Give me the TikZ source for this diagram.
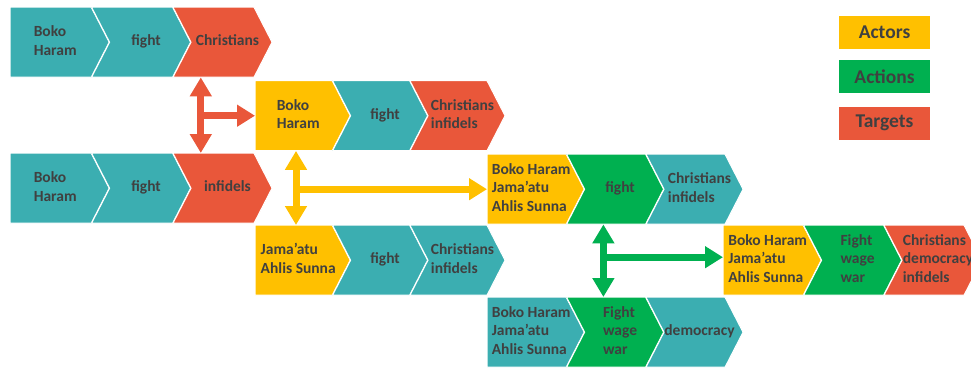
\documentclass[tikz,border=0pt]{standalone}
\usepackage{fontspec}
\setmainfont{Carlito}
\usepackage{xcolor}
\usetikzlibrary{arrows.meta, positioning}

\definecolor{tealc}{RGB}{59,174,177}
\definecolor{redc}{RGB}{233,87,58}
\definecolor{yellowc}{RGB}{255,192,0}
\definecolor{greenc}{RGB}{0,176,80}
\definecolor{txtc}{RGB}{64,64,64}

% stacked label lines, left aligned
\newcommand{\lns}[1]{\begin{tabular}{@{}l@{}}#1\end{tabular}}

\begin{document}
\begin{tikzpicture}[
    x=1pt, y=-1pt,
    node distance=-18pt,
    base/.style={inner sep=0pt, minimum height=70pt, text=txtc, font=\fontsize{15.5}{18.5}\selectfont\bfseries},
    first/.style={base, anchor=north west, execute at begin node={\hspace*{-9pt}},
        path picture={\fill[#1, draw=white, line width=1pt]
        (path picture bounding box.north west) -- ([xshift=-18pt]path picture bounding box.north east)
        -- (path picture bounding box.east) -- ([xshift=-18pt]path picture bounding box.south east)
        -- (path picture bounding box.south west) -- cycle;}},
    chev/.style={base, execute at begin node={\hspace*{10pt}},
        path picture={\fill[#1, draw=white, line width=1pt]
        (path picture bounding box.north west) -- ([xshift=-18pt]path picture bounding box.north east)
        -- (path picture bounding box.east) -- ([xshift=-18pt]path picture bounding box.south east)
        -- (path picture bounding box.south west) -- ([xshift=18pt]path picture bounding box.west) -- cycle;}},
    legend/.style={inner sep=0pt, minimum width=91pt, minimum height=33pt, text=txtc, font=\fontsize{19.5}{21}\selectfont\bfseries},
    darr/.style={line width=7pt, {Triangle[length=19pt, width=21pt]}-{Triangle[length=19pt, width=21pt]}},
    arr/.style={line width=7pt, -{Triangle[length=18pt, width=21pt]}},
]
\useasboundingbox (0,0) rectangle (971,368);

% ======== row 1 ========
\node[first=tealc, minimum width=99pt] (c1a) at (10,7) {\lns{Boko\\Haram}};
\node[chev=tealc, minimum width=99pt, right=of c1a] (c1b) {\lns{fight}};
\node[chev=redc, minimum width=99pt, right=of c1b] (c1c) {\lns{Christians}};

% ======== row 2 ========
\node[first=yellowc, minimum width=95pt] (c2a) at (255,80.5) {\lns{Boko\\Haram}};
\node[chev=tealc, minimum width=95pt, right=of c2a] (c2b) {\lns{fight}};
\node[chev=redc, minimum width=95pt, right=of c2b] (c2c) {\lns{Christians\\infidels}};

% ======== row 3 ========
\node[first=tealc, minimum width=99pt] (c3a) at (10,153) {\lns{Boko\\Haram}};
\node[chev=tealc, minimum width=99pt, right=of c3a] (c3b) {\lns{fight}};
\node[chev=redc, minimum width=99pt, right=of c3b] (c3c) {\lns{infidels}};

\node[first=yellowc, minimum width=97pt] (c4a) at (487,154) {\lns{Boko Haram\\Jama’atu\\Ahlis Sunna}};
\node[chev=greenc, minimum width=97pt, right=of c4a] (c4b) {\lns{fight}};
\node[chev=tealc, minimum width=97pt, right=of c4b] (c4c) {\lns{Christians\\infidels}};

% ======== row 4 ========
\node[first=yellowc, minimum width=95pt] (c5a) at (255,225) {\lns{Jama’atu\\Ahlis Sunna}};
\node[chev=tealc, minimum width=95pt, right=of c5a] (c5b) {\lns{fight}};
\node[chev=tealc, minimum width=95pt, right=of c5b] (c5c) {\lns{Christians\\infidels}};

\node[first=yellowc, minimum width=98pt] (c6a) at (723,225) {\lns{Boko Haram\\Jama’atu\\Ahlis Sunna}};
\node[chev=greenc, minimum width=98pt, right=of c6a] (c6b) {\lns{Fight\\wage\\war}};
\node[chev=redc, minimum width=98pt, right=of c6b] (c6c) {\lns{Christians\\democracy\\infidels}};

% ======== row 5 ========
\node[first=tealc, minimum width=97pt] (c7a) at (487,297) {\lns{Boko Haram\\Jama’atu\\Ahlis Sunna}};
\node[chev=greenc, minimum width=97pt, right=of c7a] (c7b) {\lns{Fight\\wage\\war}};
\node[chev=tealc, minimum width=97pt, right=of c7b] (c7c) {\lns{democracy}};

% ======== links ========
\coordinate (rj) at ([xshift=28pt]c1c.south west);
\coordinate (yj) at ([xshift=41pt]c2a.south west);
\coordinate (gj) at ([xshift=37pt]c4b.south west);

\draw[darr, redc] (rj) -- (rj |- c3c.north);
\draw[arr, redc] (rj |- c2a.west) -- (c2a.west);

\draw[darr, yellowc] (yj) -- (yj |- c5a.north);
\draw[arr, yellowc] (yj |- c4a.west) -- (c4a.west);

\draw[darr, greenc] (gj) -- (gj |- c7b.north);
\draw[arr, greenc] ([yshift=3pt]gj |- c6a.west) -- ([yshift=3pt]c6a.west);

% ======== legend ========
\node[legend, fill=yellowc] (lact) at (884.5,32.5) {Actors};
\node[legend, fill=greenc, below=11pt of lact] (lacn) {Actions};
\node[legend, fill=redc, below=13pt of lacn] (ltar) {Targets};

\end{tikzpicture}
\end{document}
